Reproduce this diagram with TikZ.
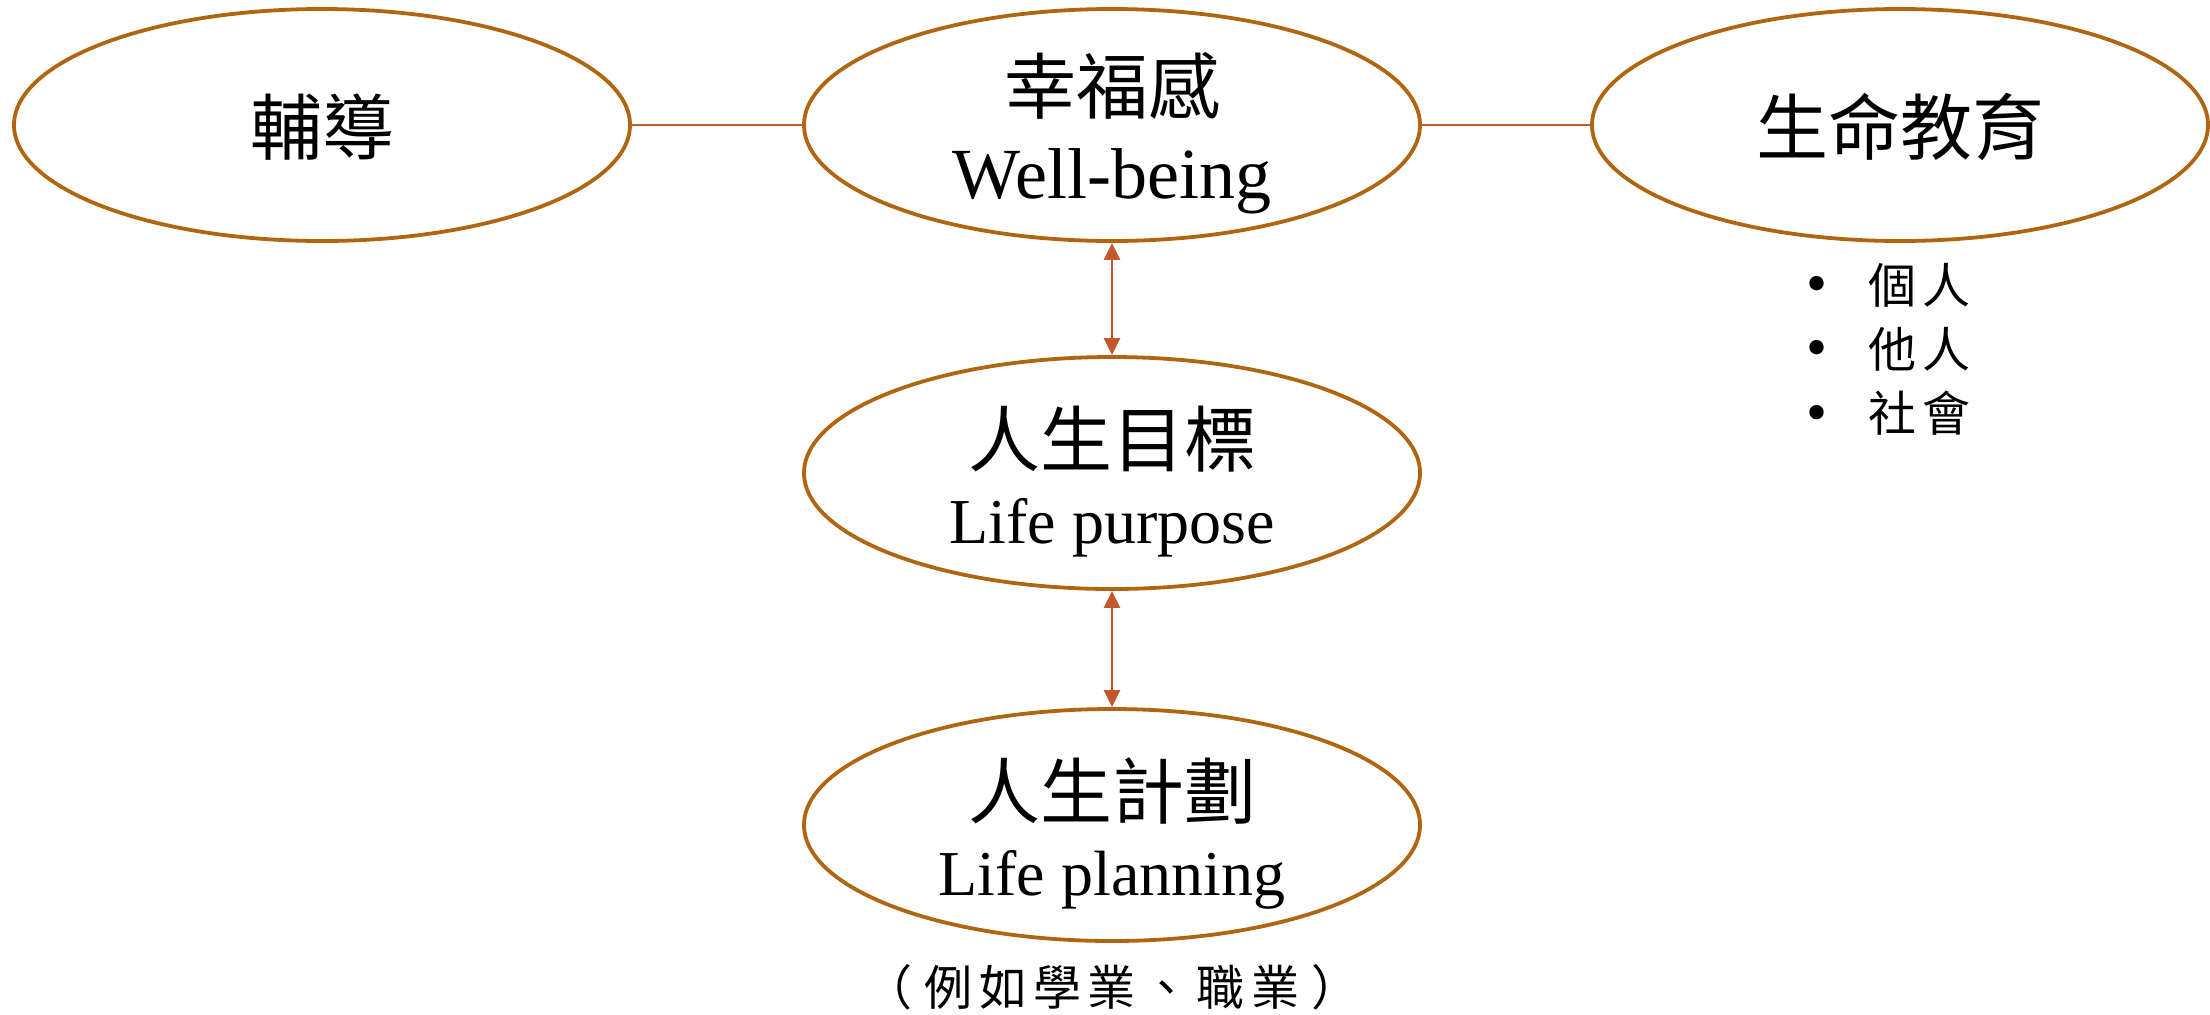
\documentclass[tikz,border=0pt]{standalone}
\usepackage{fontspec}
\setmainfont{Liberation Serif}
\newfontfamily\cjk{Noto Sans CJK TC}
\usetikzlibrary{shapes.geometric,arrows.meta}
\definecolor{ellcol}{RGB}{176,102,16}
\definecolor{linkcol}{RGB}{196,89,45}
\newcommand{\gp}{\hspace{3.2pt}}
\begin{document}
\begin{tikzpicture}[x=0.5pt,y=-0.5pt,
  oval/.style={ellipse,draw=ellcol,line width=1.9pt,minimum width=308pt,minimum height=116pt,inner sep=0pt},
  link/.style={draw=linkcol,line width=1.3pt},
  biarrow/.style={link,{Triangle[length=8.5pt,width=8pt]}-{Triangle[length=8.5pt,width=8pt]}},
  cjkbig/.style={font=\cjk\fontsize{36}{43}\selectfont,anchor=base,inner sep=0pt},
  latbig/.style={font=\fontsize{36}{43}\selectfont,anchor=base,inner sep=0pt},
  latmid/.style={font=\fontsize{32}{38}\selectfont,anchor=base,inner sep=0pt},
  cjksmall/.style={font=\cjk\fontsize{24}{29}\selectfont,inner sep=0pt},
  bul/.style={font=\fontsize{30}{36}\selectfont,anchor=base,inner sep=0pt}
]
\useasboundingbox (0,0) rectangle (2210,1014);
% ellipses
\node[oval] (fd) at (322,125) {};
\node[oval] (wb) at (1112,125) {};
\node[oval] (sm) at (1900,125) {};
\node[oval] (lp) at (1112,473) {};
\node[oval] (pl) at (1112,825) {};
% labels
\node[cjkbig] (fdt) at (322,154) {輔導};
\node[cjkbig] (wbt1) at (1112,113) {幸福感};
\node[latbig] (wbt2) at (1112,198) {Well-being};
\node[cjkbig] (smt) at (1900,154) {生命教育};
\node[cjkbig] (lpt1) at (1112,466) {人生目標};
\node[latmid] (lpt2) at (1112,543) {Life purpose};
\node[cjkbig] (plt1) at (1112,818) {人生計劃};
\node[latmid] (plt2) at (1112,895) {Life planning};
% bullets
\node[bul] (b1) at (1817,303) {\textbullet};
\node[bul] (b2) at (1817,367) {\textbullet};
\node[bul] (b3) at (1817,432) {\textbullet};
\node[cjksmall,anchor=base west] (i1) at (1868,303) {個\gp 人};
\node[cjksmall,anchor=base west] (i2) at (1868,367) {他\gp 人};
\node[cjksmall,anchor=base west] (i3) at (1868,431) {社\gp 會};
% bottom note
\node[cjksmall,anchor=base] (note) at (1112,1005) {（\gp\gp 例\gp 如\gp 學\gp 業\gp 、\gp 職\gp 業\gp\gp ）};
% connectors
\draw[link] (fd.east) -- (wb.west);
\draw[link] (wb.east) -- (sm.west);
\draw[biarrow] (wb.south) -- (lp.north);
\draw[biarrow] (lp.south) -- (pl.north);
\end{tikzpicture}
\end{document}
